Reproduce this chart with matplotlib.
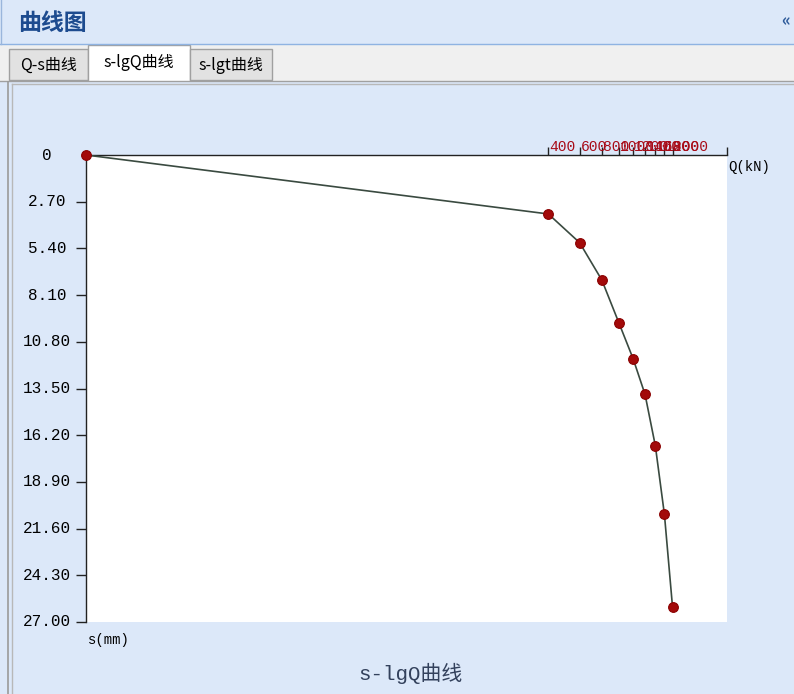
import numpy as np
import matplotlib.pyplot as plt
from matplotlib.patches import Rectangle
from matplotlib.colors import LinearSegmentedColormap
from matplotlib.transforms import blended_transform_factory

# 荷载 Q (kN) 与沉降 s (mm)
load_q = [0, 400, 600, 800, 1000, 1200, 1400, 1600, 1800, 2000]
settle_s = [0, 3.41, 5.07, 7.23, 9.73, 11.78, 13.84, 16.81, 20.78, 26.15]
s_ticks = [0, 2.70, 5.40, 8.10, 10.80, 13.50, 16.20, 18.90, 21.60, 24.30, 27.00]
tab_names = ["Q-s曲线", "s-lgQ曲线", "s-lgt曲线"]

W, H = 794, 694
MONO = ["Liberation Mono", "Noto Sans CJK SC"]
CJK = ["Noto Sans CJK SC", "DejaVu Sans"]

fig = plt.figure(figsize=(W / 100, H / 100), dpi=100)

# 窗口背景, 像素坐标 (左上为原点)
bg = fig.add_axes([0, 0, 1, 1])
bg.set_xlim(0, W)
bg.set_ylim(H, 0)
bg.axis("off")

bg.add_patch(Rectangle((0, 0), W, H, facecolor="#dce8f9", edgecolor="none"))
grad = np.linspace(0, 1, 50).reshape(-1, 1)
hdr_cmap = LinearSegmentedColormap.from_list("hdr", ["#e8f0fc", "#c2d7f3"])
bg.imshow(grad, cmap=hdr_cmap, extent=(0, W, 44, 0), aspect="auto")
bg.plot([0, W], [44, 44], color="#8fb3e2", lw=1)
bg.plot([1, 1], [0, 44], color="#9ab6dc", lw=1)
bg.text(18, 23, "曲线图", family=CJK, fontsize=16.5, fontweight="bold",
        color="#1d4b8f", va="center")
bg.text(786, 21, "«", family=CJK, fontsize=12, fontweight="bold",
        color="#2d5a9a", va="center", ha="center")

# 标签页
bg.add_patch(Rectangle((0, 45), W, 36, facecolor="#f0f0f0", edgecolor="none"))
bg.plot([0, W], [80.5, 80.5], color="#a0a0a0", lw=1)
tab_x = [(9, 88), (88, 190), (190, 272)]
for i, (name, (x0, x1)) in enumerate(zip(tab_names, tab_x)):
    if i == 1:
        bg.add_patch(Rectangle((x0, 45), x1 - x0, 37, facecolor="white",
                               edgecolor="#a0a0a0", lw=1))
        bg.text((x0 + x1) / 2, 62, name, family=CJK, fontsize=11.5,
                ha="center", va="center", color="black")
    else:
        bg.add_patch(Rectangle((x0, 49), x1 - x0, 31, facecolor="#e2e2e2",
                               edgecolor="#a0a0a0", lw=1))
        bg.text((x0 + x1) / 2, 65, name, family=CJK, fontsize=11.5,
                ha="center", va="center", color="black")

# 内容区边框
bg.add_patch(Rectangle((0, 82), W, H - 82, facecolor="#dce8f9", edgecolor="none"))
bg.plot([8, 8], [82, H], color="#9a9a9a", lw=1.2)
bg.plot([12, 12], [84, H], color="#b8b8b8", lw=1)
bg.plot([12, W], [84, 84], color="#b8b8b8", lw=1)

# 曲线区
ax = fig.add_axes([86 / W, 1 - 622 / H, (727 - 86) / W, (622 - 155) / H])
ax.set_facecolor("white")
ax.set_xscale("log")
ax.set_xlim(1, 4050)
ax.set_ylim(27, 0)
for side in ["right", "bottom"]:
    ax.spines[side].set_visible(False)
for side in ["top", "left"]:
    ax.spines[side].set_color("#222222")
    ax.spines[side].set_linewidth(1)

q_plot = np.maximum(np.array(load_q, dtype=float), 1)
ax.plot(q_plot, settle_s, color="#3a4a40", lw=1.2, zorder=3, clip_on=False)
ax.plot(q_plot, settle_s, "o", color="#a30a0a", ms=7, mec="#8a0000",
        mew=0.8, zorder=4, clip_on=False)

# 顶部 Q 轴
ax.xaxis.set_ticks_position("top")
ax.xaxis.set_minor_locator(plt.NullLocator())
ax.set_xticks(load_q[1:] + [4050])
ax.set_xticklabels([])
ax.tick_params(axis="x", which="major", direction="out", length=6,
               width=1, color="#222222")
for q in load_q[1:]:
    ax.text(q * 1.01, 1.002, str(q), transform=blended_transform_factory(
        ax.transData, ax.transAxes), family=MONO, fontsize=10.5,
        color="#a80c18", ha="left", va="bottom")
ax.text(1.002, 0.99, "Q(kN)", transform=ax.transAxes, family=MONO,
        fontsize=10, color="black", ha="left", va="top")

# 左侧 s 轴
ax.set_yticks(s_ticks[1:])
ax.set_yticklabels([])
ax.tick_params(axis="y", direction="out", length=7, width=1, color="#222222")
tr = blended_transform_factory(fig.transFigure, ax.transData)
for s in s_ticks:
    label = "0" if s == 0 else f"{s:.2f}"
    ax.text(47 / W, s, label, transform=tr, family=MONO, fontsize=11.5,
            color="black", ha="center", va="center", clip_on=False)
bg.text(88, 640, "s(mm)", family=MONO, fontsize=10, color="black",
        ha="left", va="center")

bg.text(410, 673, "s-lgQ曲线", family=MONO, fontsize=15, color="#33415c",
        ha="center", va="center")

fig.savefig("out.png", dpi=100)
